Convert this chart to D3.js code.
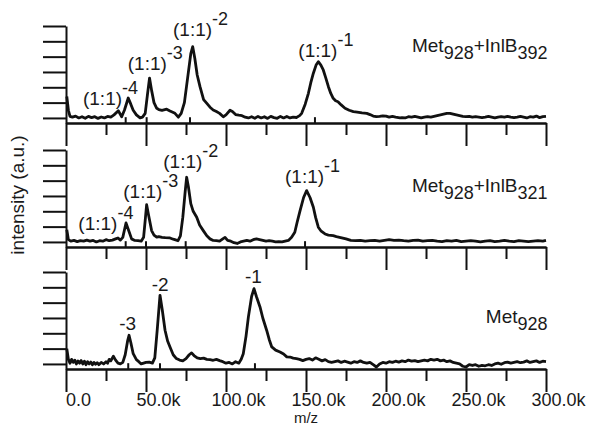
<!DOCTYPE html>
<html>
<head>
<meta charset="utf-8">
<script src="https://cdn.jsdelivr.net/npm/d3@7"></script>
<style>
  html, body { margin: 0; padding: 0; background: #fff; }
  svg { display: block; font-family: "Liberation Sans", Arial, sans-serif; }
  .axis path, .axis line { stroke: #111; stroke-width: 2; }
  .axis text { fill: #1a1a1a; font-size: 18px; font-family: "Liberation Sans", Arial, sans-serif; }
</style>
</head>
<body>
<svg id="chart" width="592" height="426"></svg>
<script>
// spectra as [m/z in k, intensity] pairs
const specInlB392 = [
  [0.5,1.4],[1.5,0.5],[2.5,0.1],[4,0.05],[6,0.12],[8,0.0],[10,0.08],[12,-0.02],[14,0.1],[16,0.02],
  [18,0.08],[20,-0.03],[22,0.06],[24,0.0],[26,0.1],[28,0.05],[30,0.2],[32.7,0.47],[34.8,0.08],[36.5,0.5],
  [38.9,1.3],[40.5,0.9],[42,0.5],[44,0.2],[46.3,0.0],[47.8,0.05],[49.5,0.3],[51,1.6],[52.2,2.6],[53.5,1.8],
  [55,1.0],[56.7,0.63],[58,0.55],[60,0.5],[62.9,0.57],[65,0.45],[68.1,0.3],[70.2,0.05],[72,0.3],[74,1.0],
  [76,2.6],[78,4.2],[79.2,4.65],[80.5,3.9],[82,2.8],[83.75,2.04],[86,1.2],[87.9,0.96],[90,0.7],[92,0.52],
  [94,0.42],[96,0.3],[98.3,0.08],[100,0.2],[102.5,0.5],[104,0.42],[106,0.22],[108,0.18],[110,0.15],[112,0.05],
  [114,0.0],[116,0.08],[118,-0.02],[120,0.1],[122,0.0],[124,0.08],[126,-0.03],[128,0.1],[130,0.02],[132,-0.02],
  [134,0.1],[136,0.0],[138,0.1],[140,0.0],[142,0.05],[144,0.03],[146,0.15],[147.3,0.3],[149.5,0.9],[151.5,1.61],
  [153,2.3],[154.6,2.92],[156.3,3.45],[157.7,3.67],[159.3,3.45],[160.8,3.13],[162.4,2.6],[164,2.04],[165.5,1.6],[167,1.28],
  [168.5,1.12],[170,1.06],[172,0.85],[174.4,0.63],[177,0.5],[179.6,0.41],[182,0.38],[185,0.33],[188,0.3],[190,0.22],
  [192,0.12],[194,0.08],[196,0.1],[198,0.14],[200,0.12],[202,0.05],[204,0.1],[206,0.05],[208.75,0.0],[210,0.02],
  [212,0.0],[214,0.08],[216,0.05],[218,0.1],[220,0.05],[222,0.0],[224,0.05],[226,0.08],[228,0.05],[230,0.1],
  [232,0.15],[234,0.2],[236,0.25],[238,0.3],[240,0.3],[242,0.25],[244,0.2],[246,0.15],[248,0.1],[250,0.08],
  [252,0.1],[254,0.05],[256,0.08],[258,0.05],[260,0.02],[262,0.05],[264,0.1],[266,0.05],[268,0.0],[270,0.05],
  [272,0.08],[274,0.05],[276,0.1],[278,0.05],[280,0.02],[282,0.05],[284,0.1],[286,0.05],[288,0.0],[290,0.08],
  [292,0.05],[294,0.12],[296,0.02],[298,0.08],[300,0.1]
];

const specInlB321 = [
  [0.5,0.8],[1.5,0.15],[3,0.05],[5,0.1],[7,0.02],[9,0.08],[11,0.05],[13,0.12],[15,0.05],[17,0.1],
  [19,0.0],[21,0.08],[23,0.05],[25,0.15],[27,0.08],[29,0.12],[31,0.2],[32.5,0.26],[34,0.12],[35.5,0.3],
  [37.5,1.24],[39,0.8],[41,0.2],[43,0.1],[45,0.08],[47,0.05],[48.5,0.3],[49.5,1.4],[50.4,2.43],[51.5,1.8],
  [53.5,0.74],[55,0.45],[56.7,0.31],[58,0.35],[60,0.3],[62,0.28],[65,0.26],[67,0.18],[68.5,0.13],[70,0.08],
  [71.5,0.4],[73,1.6],[74.5,3.3],[75.4,4.22],[76.5,3.6],[78,2.5],[79.5,2.0],[81.7,1.61],[83.5,1.1],[85.8,0.74],
  [88,0.4],[90,0.2],[92,0.1],[94,0.08],[96,0.05],[98,0.2],[99.4,0.3],[101,0.1],[103,0.05],[105,-0.05],
  [107,-0.1],[109,0.0],[111,0.05],[113,0.1],[115,0.05],[117,0.15],[119,0.2],[121,0.15],[123,0.1],[125,0.05],
  [127,0.08],[129,0.05],[131,0.0],[133,0.02],[135,0.0],[137,0.05],[139,0.1],[141,0.3],[143,0.63],[144.5,1.3],
  [146.3,2.04],[148.5,2.9],[150.4,3.35],[152.5,2.9],[154.6,2.26],[156,1.6],[157.7,0.96],[159.5,0.7],[161.9,0.52],[164,0.45],
  [167,0.41],[169,0.35],[171,0.3],[173,0.25],[175,0.2],[178,0.1],[181,0.08],[184,0.1],[187,0.05],[190,0.08],
  [193,0.1],[196,0.05],[199,0.1],[202,0.15],[205,0.1],[208,0.12],[211,0.08],[214,0.05],[217,0.1],[220,0.12],
  [223,0.05],[226,0.08],[229,0.1],[232,0.05],[235,0.02],[238,0.08],[241,0.05],[244,0.1],[247,0.02],[250,0.05],
  [253,0.08],[256,0.05],[259,0.0],[262,0.05],[265,0.08],[268,0.02],[271,0.05],[274,0.1],[277,0.05],[280,0.02],
  [283,0.08],[286,0.05],[289,0.02],[292,0.05],[295,0.08],[298,0.05],[300,0.1]
];

const specMet928 = [
  [0.5,1.0],[1.5,0.3],[2.5,0.05],[3.5,0.3],[4.5,0.1],[5.5,0.25],[6.5,0.0],[7.5,0.2],[8.5,0.05],[9.5,0.22],
  [10.5,0.0],[11.5,0.18],[12.5,-0.05],[13.5,0.15],[14.5,0.0],[15.5,0.12],[16.5,-0.05],[17.5,0.1],[18.5,-0.02],[19.5,0.08],
  [20.5,-0.05],[22,0.1],[23.5,0.0],[25,0.15],[26,0.05],[27,0.3],[28,0.2],[29.6,0.5],[31,0.25],[32.5,0.05],
  [34,0.0],[35.5,0.1],[37,0.6],[38.5,1.5],[39.4,1.87],[40.5,1.4],[42,0.67],[44,0.28],[45.5,0.15],[47,0.0],
  [48.5,0.05],[50,0.1],[52,0.12],[54,0.05],[55.5,0.4],[57,2.2],[58.75,4.48],[60.2,3.5],[61.9,2.2],[63.5,1.5],
  [65,1.11],[67,0.6],[69,0.35],[71,0.25],[73,0.2],[75,0.35],[77,0.6],[78.5,0.72],[80,0.55],[82,0.4],
  [84,0.35],[86,0.38],[88,0.3],[90,0.28],[92,0.24],[94,0.3],[96,0.22],[98,0.15],[100,0.05],[102,0.1],
  [104,0.0],[106,0.15],[108,0.05],[109.5,0.3],[110.8,0.67],[112.5,1.8],[114,3.07],[116,4.4],[117.5,4.91],[119,4.4],
  [121.25,3.72],[123,3.0],[125.4,2.2],[127,1.6],[128.6,1.11],[131,0.9],[133.75,0.78],[136,0.65],[138,0.46],[140,0.45],
  [142,0.38],[144,0.35],[146,0.3],[148,0.22],[150,0.3],[152,0.35],[154,0.25],[156,0.4],[158,0.3],[160,0.2],
  [162,0.28],[164,0.15],[166,0.1],[168,0.15],[170,0.2],[172,0.1],[174,0.18],[176,0.12],[178,0.05],[180,0.15],
  [182,0.1],[184,0.2],[186,0.1],[188,0.05],[190,0.1],[192,-0.05],[194,-0.2],[196,0.0],[198,0.1],[200,0.05],
  [202,0.15],[204,0.1],[206,0.18],[208,0.12],[210,0.2],[212,0.15],[214,0.25],[216,0.18],[218,0.22],[220,0.15],
  [222,0.2],[224,0.25],[226,0.2],[228,0.3],[230,0.25],[232,0.3],[234,0.2],[236,0.25],[238,0.15],[240,0.2],
  [242,0.1],[244,0.05],[246,0.0],[248,-0.15],[250,-0.2],[252,-0.05],[254,-0.1],[256,-0.05],[258,-0.15],[260,-0.1],
  [262,-0.12],[264,-0.05],[266,-0.1],[268,0.0],[270,0.05],[272,-0.02],[274,0.08],[276,0.12],[278,0.05],[280,0.1],
  [282,0.15],[284,0.08],[286,0.12],[288,0.2],[290,0.1],[292,0.15],[294,0.2],[296,0.1],[298,0.18],[300,0.15]
];

// peak labels: [text, superscript, m/z at label start, intensity at baseline]
const labelsInlB392 = [['(1:1)', '-4', 10.6, 0.85], ['(1:1)', '-3', 38.6, 3.13], ['(1:1)', '-2', 66.9, 5.35], ['(1:1)', '-1', 145.2, 4.0]];
const labelsInlB321 = [['(1:1)', '-4', 7.7, 0.78], ['(1:1)', '-3', 35.8, 2.85], ['(1:1)', '-2', 60.8, 4.81], ['(1:1)', '-1', 136.9, 3.83]];
const labelsMet928 = [['', '-3', 33.3, 2.22], ['', '-2', 53.6, 4.78], ['', '-1', 111.9, 5.26]];

// short marks on the axis at the expected peak positions
const marksInlB392 = [37.3, 50.4, 77.5, 155.6];
const marksInlB321 = [37.3, 50.0, 74.8, 149.4];
const marksMet928 = [38.9, 58.75, 118.1];

// sample names as [text, subscript] pieces
const nameInlB392 = [['Met', '928'], ['+InlB', '392']];
const nameInlB321 = [['Met', '928'], ['+InlB', '321']];
const nameMet928 = [['Met', '928']];
const nameLevels = [4.3, 3.28, 2.67];

const majorTicks = [0, 50, 100, 150, 200, 250, 300];
const minorTicks = [25, 75, 125, 175, 225, 275];
const yTicks = [0, 1, 2, 3, 4, 5, 6];

const panels = [
  { spec: specInlB392, labels: labelsInlB392, marks: marksInlB392, name: nameInlB392, axisY: 123 },
  { spec: specInlB321, labels: labelsInlB321, marks: marksInlB321, name: nameInlB321, axisY: 247 },
  { spec: specMet928, labels: labelsMet928, marks: marksMet928, name: nameMet928, axisY: 369 },
];

const panelHeight = 97;
const yMin = -0.33;
const svg = d3.select('#chart');

const x = d3.scaleLinear().domain([0, 300]).range([66, 546]);
const formatTick = d => d === 0 ? '0.0' : d3.format('.1f')(d) + 'k';

panels.forEach((p, i) => {
  const y = d3.scaleLinear().domain([yMin, 6]).range([p.axisY, p.axisY - panelHeight]);
  const isLast = i === panels.length - 1;
  const g = svg.append('g');

  // minor x ticks
  g.append('g').attr('class', 'axis')
    .attr('transform', `translate(0,${p.axisY})`)
    .call(d3.axisBottom(x).tickValues(minorTicks).tickSize(12).tickSizeOuter(0).tickFormat(''));

  // major x ticks (labels sit a little right of their ticks in the original)
  const major = g.append('g').attr('class', 'axis')
    .attr('transform', `translate(0,${p.axisY})`)
    .call(d3.axisBottom(x).tickValues(majorTicks).tickSize(23).tickSizeOuter(0).tickPadding(1)
      .tickFormat(isLast ? formatTick : ''));
  major.selectAll('text').attr('dx', 12);

  // y axis
  g.append('g').attr('class', 'axis')
    .attr('transform', `translate(${x(0)},0)`)
    .call(d3.axisLeft(y).tickValues(yTicks).tickSize(23).tickSizeOuter(0).tickFormat(''));

  // peak position marks
  g.selectAll('line.mark').data(p.marks).join('line')
    .attr('class', 'mark')
    .attr('x1', d => x(d)).attr('x2', d => x(d))
    .attr('y1', y(yMin)).attr('y2', y(0.05))
    .attr('stroke', '#111').attr('stroke-width', 2);

  // spectrum
  g.append('path')
    .datum(p.spec)
    .attr('fill', 'none')
    .attr('stroke', '#111')
    .attr('stroke-width', 2.8)
    .attr('stroke-linejoin', 'round')
    .attr('d', d3.line().x(d => x(d[0])).y(d => y(d[1])));

  // peak labels
  p.labels.forEach(([base, sup, k, v]) => {
    const t = g.append('text')
      .attr('x', x(k)).attr('y', y(v))
      .attr('font-size', 19).attr('fill', '#1a1a1a');
    if (base) {
      t.append('tspan').text(base);
      t.append('tspan').attr('dy', -11).attr('font-size', 18).text(sup);
    } else {
      t.append('tspan').text(sup);
    }
  });

  // sample name
  const name = g.append('text')
    .attr('x', x(301)).attr('y', y(nameLevels[i]))
    .attr('text-anchor', 'end')
    .attr('font-size', 19).attr('fill', '#1a1a1a');
  p.name.forEach(([main, sub], j) => {
    name.append('tspan').attr('dy', j === 0 ? 0 : -7).text(main);
    name.append('tspan').attr('dy', 7).attr('font-size', 18).text(sub);
  });
});

svg.append('text')
  .attr('transform', 'translate(24,195) rotate(-90)')
  .attr('text-anchor', 'middle')
  .attr('font-size', 19)
  .attr('fill', '#1a1a1a')
  .text('intensity (a.u.)');

svg.append('text')
  .attr('x', (x(0) + x(300)) / 2)
  .attr('y', 423)
  .attr('text-anchor', 'middle')
  .attr('font-size', 15)
  .attr('fill', '#1a1a1a')
  .text('m/z');
</script>
</body>
</html>
